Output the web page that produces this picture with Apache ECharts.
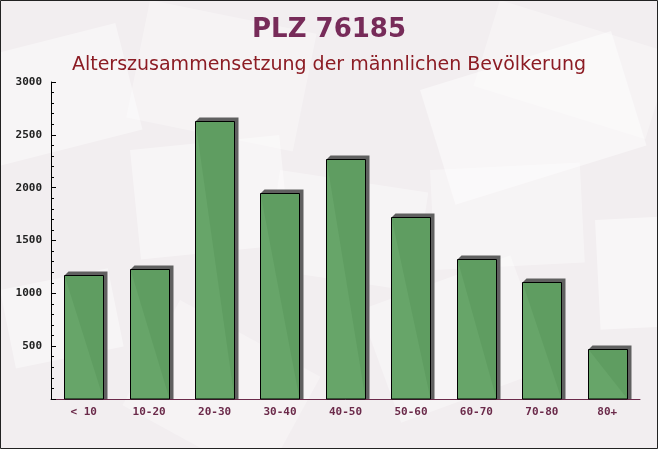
<!DOCTYPE html>
<html><head><meta charset="utf-8">
<script src="https://cdn.jsdelivr.net/npm/echarts@6/dist/echarts.min.js"></script>
<style>html,body{margin:0;padding:0;background:#f3eff0}#c{width:658px;height:449px}</style>
</head><body><div id="c"></div>
<script>
const categories = ['< 10','10-20','20-30','30-40','40-50','50-60','60-70','70-80','80+'];
const values = [1170, 1230, 2630, 1950, 2270, 1720, 1325, 1105, 475];
const yTicks = [0, 500, 1000, 1500, 2000, 2500, 3000];
const titleText = 'PLZ 76185';
const subtitleText = 'Alterszusammensetzung der männlichen Bevölkerung';

const chart = echarts.init(document.getElementById('c'));

function env(x, y, w, h, rot, op) {
  return {type: 'rect', x: x, y: y, rotation: rot, silent: true, z: -10,
    shape: {x: 0, y: 0, width: w, height: h},
    style: {fill: 'rgba(255,255,255,' + op + ')'}};
}

chart.setOption({
  backgroundColor: '#f2eef0',
  animation: false,
  graphic: [
    env(-30, 60, 150, 110, 0.25, 0.4),
    env(150, 0, 170, 120, -0.2, 0.3),
    env(420, 90, 200, 120, 0.3, 0.45),
    env(130, 150, 150, 110, 0.1, 0.4),
    env(280, 170, 150, 100, -0.15, 0.35),
    env(430, 170, 150, 100, 0.05, 0.35),
    env(595, 220, 120, 110, 0.05, 0.45),
    env(0, 290, 110, 80, 0.2, 0.4),
    env(180, 300, 160, 120, -0.5, 0.3),
    env(360, 310, 160, 120, 0.35, 0.35),
    env(500, 0, 180, 90, -0.3, 0.3),
    {type: 'rect', silent: true, z: 100, shape: {x: 0.5, y: 0.5, width: 657, height: 448},
      style: {fill: 'none', stroke: '#222', lineWidth: 1}}
  ],
  title: [{
    text: titleText, left: 'center', top: 12,
    textStyle: {fontFamily: 'DejaVu Sans', fontWeight: 'bold', fontSize: 26, color: '#772b59'}
  },{
    text: subtitleText, left: 'center', top: 51,
    textStyle: {fontFamily: 'DejaVu Sans', fontWeight: 'normal', fontSize: 19, color: '#8c1c24'}
  }],
  grid: {left: 51, right: 18, top: 82, bottom: 50},
  xAxis: {
    type: 'category', data: categories,
    axisLine: {lineStyle: {color: '#6b2a4a', width: 1}},
    axisTick: {inside: true, length: 5, lineStyle: {color: '#6b2a4a'}},
    axisLabel: {fontFamily: 'DejaVu Sans Mono', fontWeight: 'bold', fontSize: 11, color: '#6b2a4a', margin: 8}
  },
  yAxis: {
    type: 'value', min: yTicks[0], max: yTicks[yTicks.length-1], interval: 500,
    axisLine: {show: true, lineStyle: {color: '#000', width: 1}},
    axisTick: {show: true, inside: true, length: 5, lineStyle: {color: '#000'}},
    minorTick: {show: true, splitNumber: 5, length: 3, lineStyle: {color: '#000'}},
    splitLine: {show: false},
    axisLabel: {fontFamily: 'DejaVu Sans Mono', fontWeight: 'bold', fontSize: 11, color: '#222', margin: 9,
      formatter: function (v) { return v === 0 ? '' : String(v); }}
  },
  series: [{
    type: 'custom',
    data: values.map(function (v, i) { return [i, v]; }),
    encode: {x: 0, y: 1},
    renderItem: function (params, api) {
      const top = api.coord([api.value(0), api.value(1)]);
      const base = api.coord([api.value(0), 0]);
      const bw = api.size([1, 0])[0] * 0.6;
      const x0 = Math.round(top[0] - bw / 2) + 0.5, x1 = x0 + Math.round(bw);
      const y0 = Math.round(top[1]) + 0.5, yb = base[1];
      const d = 4;
      return {type: 'group', children: [
        {type: 'polygon', shape: {points: [[x0, y0], [x0 + d, y0 - d], [x1 + d, y0 - d], [x1 + d, yb], [x1, yb]]},
          style: {fill: 'rgba(80,80,80,0.9)'}},
        {type: 'rect', shape: {x: x0, y: y0, width: x1 - x0, height: yb - y0},
          style: {fill: 'rgba(95,160,97,0.95)', stroke: '#000', lineWidth: 1}}
      ]};
    }
  }]
});
</script></body></html>
